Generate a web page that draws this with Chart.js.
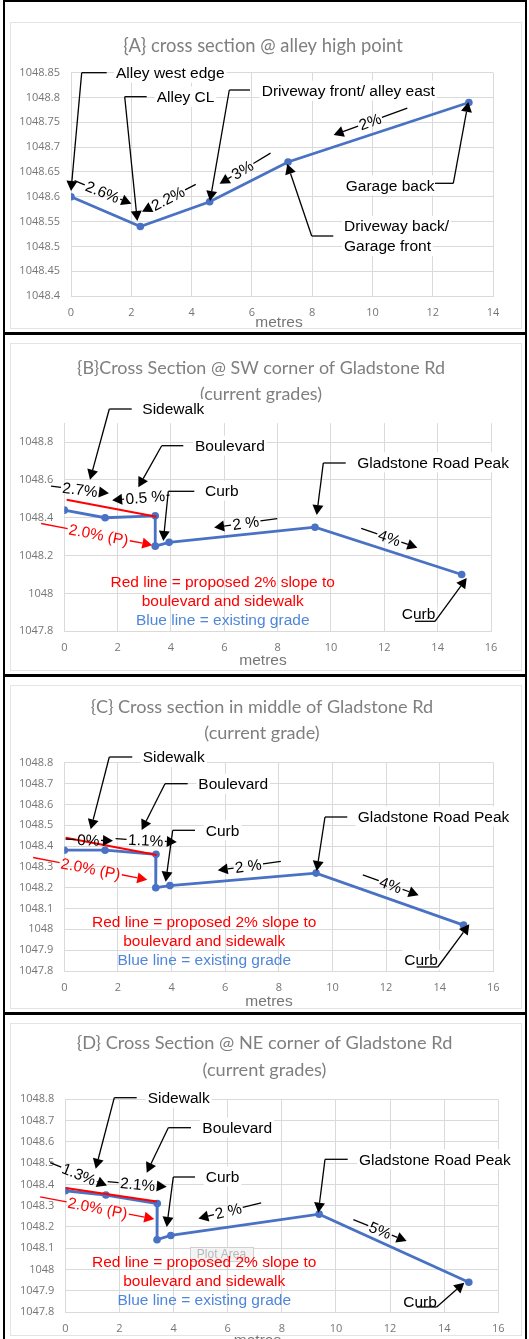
<!DOCTYPE html>
<html><head><meta charset="utf-8">
<script src="https://cdn.jsdelivr.net/npm/chart.js@4.4.1/dist/chart.umd.min.js"></script>
<style>
html,body{margin:0;padding:0;background:#fff;}
body{width:529px;height:1339px;position:relative;overflow:hidden;}
canvas{position:absolute;left:0;}
.fr{position:absolute;background:#000;z-index:5;}
</style></head><body>
<canvas id="cA" width="529" height="332" style="top:0px"></canvas>
<canvas id="cB" width="529" height="339" style="top:335px"></canvas>
<canvas id="cC" width="529" height="335" style="top:677px"></canvas>
<canvas id="cD" width="529" height="324" style="top:1015px"></canvas>
<div class="fr" style="left:3px;top:0;width:2px;height:1339px"></div>
<div class="fr" style="left:525px;top:0;width:2px;height:1339px"></div>
<div class="fr" style="left:3px;top:0;width:524px;height:2px"></div>
<div class="fr" style="left:3px;top:332px;width:524px;height:3px"></div>
<div class="fr" style="left:3px;top:674px;width:524px;height:3px"></div>
<div class="fr" style="left:3px;top:1012px;width:524px;height:3px"></div>
<script>
// ---------------- DATA ----------------
const xA = [0, 2.3, 4.6, 7.2, 13.2];
const yA = [1048.60, 1048.54, 1048.59, 1048.67, 1048.79];
const xTicksA = [0, 2, 4, 6, 8, 10, 12, 14];
const yTicksA = [1048.4, 1048.45, 1048.5, 1048.55, 1048.6, 1048.65, 1048.7, 1048.75, 1048.8, 1048.85];

const xB = [0, 1.53, 3.41, 3.41, 3.93, 9.4, 14.9];
const yB = [1048.44, 1048.40, 1048.41, 1048.25, 1048.27, 1048.35, 1048.10];
const redXB = [0.09, 3.46];
const redYB = [1048.495, 1048.405];

const xC = [0, 1.52, 3.42, 3.41, 3.94, 9.39, 14.89];
const yC = [1048.38, 1048.38, 1048.36, 1048.20, 1048.21, 1048.27, 1048.02];
const redXC = [0.05, 3.45];
const redYC = [1048.44, 1048.357];

const xD = [0, 1.5, 3.4, 3.39, 3.9, 9.38, 14.91];
const yD = [1048.37, 1048.35, 1048.31, 1048.14, 1048.16, 1048.26, 1047.94];
const redXD = [0.02, 3.38];
const redYD = [1048.383, 1048.32];

const xTicks16 = [0, 2, 4, 6, 8, 10, 12, 14, 16];
const yTicksB = [1047.8, 1048.0, 1048.2, 1048.4, 1048.6, 1048.8];
const yTicks01 = [1047.8, 1047.9, 1048.0, 1048.1, 1048.2, 1048.3, 1048.4, 1048.5, 1048.6, 1048.7, 1048.8];

const titleA = ['{A} cross section @ alley high point'];
const titleB = ['{B}Cross Section @ SW corner of Gladstone Rd', '(current grades)'];
const titleC = ['{C} Cross section in middle of Gladstone Rd', '(current grade)'];
const titleD = ['{D} Cross Section @ NE corner of Gladstone Rd', '(current grades)'];
const legendRed = ['Red line = proposed 2% slope to', 'boulevard and sidewalk'];
const legendBlue = 'Blue line = existing grade';
const xTitle = 'metres';

// ---------------- STYLE ----------------
const BLUE = '#4a72c4', RED = '#ff0000', LEGBLUE = '#4f86dc';
const GRID = '#dadada', TICK = '#767676', TITLE = '#7f7f7f';
const LBL = '15.5px "Liberation Sans", Arial, sans-serif';
const fmt = v => String(Number(v.toFixed(2)));

function line(ctx, x1, y1, x2, y2, col) {
  ctx.strokeStyle = col; ctx.lineWidth = 1.3;
  ctx.beginPath(); ctx.moveTo(x1, y1); ctx.lineTo(x2, y2); ctx.stroke();
}
function arrow(ctx, x1, y1, x2, y2, col) {
  const ang = Math.atan2(y2 - y1, x2 - x1), hl = 10, hw = 5.5;
  const bx = x2 - hl * Math.cos(ang), by = y2 - hl * Math.sin(ang);
  line(ctx, x1, y1, bx, by, col);
  ctx.fillStyle = col;
  ctx.beginPath(); ctx.moveTo(x2, y2);
  ctx.lineTo(bx + hw * Math.sin(ang), by - hw * Math.cos(ang));
  ctx.lineTo(bx - hw * Math.sin(ang), by + hw * Math.cos(ang));
  ctx.closePath(); ctx.fill();
}
function slope(ctx, s, top) {
  ctx.save();
  ctx.translate(s.x, s.y - top); ctx.rotate(s.a * Math.PI / 180);
  ctx.font = LBL; const w = ctx.measureText(s.t).width;
  const col = s.red ? RED : '#000';
  ctx.fillStyle = col; ctx.textAlign = 'center'; ctx.textBaseline = 'middle';
  ctx.fillText(s.t, 0, 1);
  const g = 1.5;
  if (s.l) { if (s.la) arrow(ctx, -w/2 - g, 0, -w/2 - g - s.l, 0, col); else line(ctx, -w/2 - g, 0, -w/2 - g - s.l, 0, col); }
  if (s.r) { if (s.ra) arrow(ctx, w/2 + g, 0, w/2 + g + s.r, 0, col); else line(ctx, w/2 + g, 0, w/2 + g + s.r, 0, col); }
  ctx.restore();
}
function callout(ctx, c, top) {
  ctx.font = LBL; ctx.textAlign = 'left'; ctx.textBaseline = 'middle';
  c.t.forEach((t, i) => {
    const w = ctx.measureText(t).width;
    ctx.fillStyle = '#fff'; ctx.fillRect(c.x - 2, c.y - top + i * 20 - 10, w + 4, 20);
  });
  c.t.forEach((t, i) => { ctx.fillStyle = '#000'; ctx.fillText(t, c.x, c.y - top + i * 20 + 1); });
  (c.ln || []).forEach(l => line(ctx, l[0], l[1] - top, l[2], l[3] - top, '#000'));
  (c.ar || []).forEach(l => arrow(ctx, l[0], l[1] - top, l[2], l[3] - top, '#000'));
}
function fitFont(ctx, text, family, target) {
  ctx.font = '20px ' + family;
  return 20 * target / ctx.measureText(text).width;
}

const panels = [
  { id: 'cA', top: 0, H: 332, area: { l: 71, t: 72.7, r: 493, b: 296 },
    xmin: 0, xmax: 14, ymin: 1048.4, ymax: 1048.85, xt: xTicksA, yt: yTicksA,
    x: xA, y: yA, title: titleA, titleW: 280, titleY: [46], titleX: 263, metres: [279, 323],
    callouts: [
      { t: ['Alley west edge'], x: 116, y: 72.7, ln: [[81.7, 72.7, 106.7, 72.7]], ar: [[81.7, 72.7, 71, 191]] },
      { t: ['Alley CL'], x: 156.7, y: 96.7, ln: [[124.7, 96.7, 146.7, 96.7]], ar: [[124.7, 96.7, 137.3, 221]] },
      { t: ['Driveway front/ alley east'], x: 261.7, y: 90.7, ln: [[229.3, 90, 250, 90]], ar: [[229.3, 90, 210, 201]] },
      { t: ['Garage back'], x: 345.7, y: 185.3, ln: [[435, 183.3, 453.3, 183.3]], ar: [[453.3, 183.3, 468.3, 102]] },
      { t: ['Driveway back/', 'Garage front'], x: 344, y: 226, ln: [[311.7, 236, 333.3, 236]], ar: [[311.7, 236, 287.3, 164]] }
    ],
    slopes: [
      { t: '2.6%', x: 102.5, y: 192, a: 22, l: 11, r: 12, ra: 1 },
      { t: '2.2%', x: 168, y: 198.5, a: -27, l: 10, r: 12, la: 1 },
      { t: '3%', x: 242.5, y: 170, a: -31, l: 14, r: 20, la: 1 },
      { t: '2%', x: 370, y: 121.7, a: -20, l: 26, r: 27, la: 1 }
    ] },
  { id: 'cB', top: 335, H: 339, area: { l: 64.3, t: 88.1, r: 491, b: 296.3 },
    xmin: 0, xmax: 16, ymin: 1047.8, ymax: 1048.9, xt: xTicks16, yt: yTicksB,
    x: xB, y: yB, rx: redXB, ry: redYB, title: titleB, titleW: 368, titleY: [368.7, 394.7], titleX: 261, metres: [263, 660.7],
    legendY: [583, 601.3, 620.7], legendX: 222.7,
    callouts: [
      { t: ['Sidewalk'], x: 142.3, y: 409, ln: [[109.3, 409, 131.7, 409]], ar: [[109.3, 409, 90, 479.7]] },
      { t: ['Boulevard'], x: 195, y: 445.7, ln: [[161.7, 445.7, 183.3, 445.7]], ar: [[161.7, 445.7, 138.3, 487.3]] },
      { t: ['Curb'], x: 205, y: 490.7, ln: [[168.3, 491.3, 194.3, 491.3]], ar: [[168.3, 491.3, 163.3, 541]] },
      { t: ['Gladstone Road Peak'], x: 357.3, y: 462.3, ln: [[323.3, 463, 345.7, 463]], ar: [[323.3, 463, 316.7, 515]] },
      { t: ['Curb'], x: 401.7, y: 614, ln: [[415, 621.3, 435, 621.3]], ar: [[435, 621.3, 466.7, 578]] }
    ],
    slopes: [
      { t: '2.7%', x: 80, y: 489.7, a: 7, l: 10, r: 10, ra: 1 },
      { t: '0.5 %', x: 145.3, y: 497.3, a: -5, l: 12, r: 3, la: 1 },
      { t: '2.0% (P)', x: 98.7, y: 534.7, a: 11, l: 27, r: 23, ra: 1, red: 1 },
      { t: '2 %', x: 245.7, y: 523, a: -8, l: 17, r: 17, la: 1 },
      { t: '4%', x: 389.3, y: 538, a: 19, l: 17, r: 17, ra: 1 }
    ] },
  { id: 'cC', top: 677, H: 335, area: { l: 64.3, t: 85.7, r: 493.3, b: 294 },
    xmin: 0, xmax: 16, ymin: 1047.8, ymax: 1048.8, xt: xTicks16, yt: yTicks01,
    x: xC, y: yC, rx: redXC, ry: redYC, title: titleC, titleW: 342.7, titleY: [707, 733.3], titleX: 262, metres: [269, 1001.7],
    legendY: [922.7, 941.7, 961], legendX: 204.2,
    callouts: [
      { t: ['Sidewalk'], x: 142.7, y: 757, ln: [[109.3, 757, 132.3, 757]], ar: [[109.3, 757, 90.7, 829.3]] },
      { t: ['Boulevard'], x: 198.3, y: 783.7, ln: [[165, 783.7, 187.7, 783.7]], ar: [[165, 783.7, 141.7, 830]] },
      { t: ['Curb'], x: 205.7, y: 830.3, ln: [[172.7, 830.3, 195, 830.3]], ar: [[172.7, 830.3, 165.7, 881.7]] },
      { t: ['Gladstone Road Peak'], x: 357.7, y: 816.3, ln: [[325, 817, 347.3, 817]], ar: [[325, 817, 316.7, 871]] },
      { t: ['Curb'], x: 404.3, y: 960, ln: [[416.7, 967, 437.7, 967]], ar: [[437.7, 967, 469.3, 924.3]] }
    ],
    slopes: [
      { t: '0%', x: 88.3, y: 840, a: 2, l: 10, r: 12, ra: 1 },
      { t: '1.1%', x: 145.7, y: 840.3, a: 3, l: 11, r: 12, ra: 1 },
      { t: '2.0% (P)', x: 90.7, y: 868.7, a: 11, l: 27, r: 26, ra: 1, red: 1 },
      { t: '2 %', x: 248.3, y: 866, a: -8, l: 16, r: 18, la: 1 },
      { t: '4%', x: 390.7, y: 885, a: 20, l: 17, r: 17, ra: 1 }
    ] },
  { id: 'cD', top: 1015, H: 324, area: { l: 65.3, t: 84.3, r: 498.3, b: 297 },
    xmin: 0, xmax: 16, ymin: 1047.8, ymax: 1048.8, xt: xTicks16, yt: yTicks01,
    x: xD, y: yD, rx: redXD, ry: redYD, title: titleD, titleW: 376, titleY: [1043, 1069.7], titleX: 264.5, metres: [257.5, 1341],
    legendY: [1262.7, 1281.3, 1300.7], legendX: 204.2, ghost: true,
    callouts: [
      { t: ['Sidewalk'], x: 147.7, y: 1097.7, ln: [[114.3, 1097.7, 136.7, 1097.7]], ar: [[114.3, 1097.7, 95.7, 1168.7]] },
      { t: ['Boulevard'], x: 202.3, y: 1127.7, ln: [[168.3, 1127.7, 191, 1127.7]], ar: [[168.3, 1127.7, 146.7, 1172.7]] },
      { t: ['Curb'], x: 205.7, y: 1176.3, ln: [[173.3, 1177, 195, 1177]], ar: [[173.3, 1177, 166.7, 1227]] },
      { t: ['Gladstone Road Peak'], x: 359, y: 1159.3, ln: [[325, 1159.3, 347.7, 1159.3]], ar: [[325, 1159.3, 318.3, 1212.7]] },
      { t: ['Curb'], x: 403.3, y: 1301.3, ln: [[416.7, 1307, 436.7, 1307]], ar: [[436.7, 1307, 464.3, 1282.7]] }
    ],
    slopes: [
      { t: '1.3%', x: 79, y: 1174.3, a: 22, l: 12, r: 11, ra: 1 },
      { t: '2.1%', x: 137.7, y: 1184.3, a: 5, l: 11, r: 10, ra: 1 },
      { t: '2.0% (P)', x: 97.7, y: 1208, a: 11, l: 27, r: 26, ra: 1, red: 1 },
      { t: '2 %', x: 228.3, y: 1211, a: -14, l: 16, r: 19, la: 1 },
      { t: '5%', x: 380, y: 1230.3, a: 22, l: 16, r: 16, ra: 1 }
    ] }
];

const annot = {
  id: 'annot',
  beforeDraw(chart, args, o) {
    const p = o.p, ctx = chart.ctx;
    ctx.save();
    ctx.fillStyle = '#fff'; ctx.fillRect(0, 0, chart.width, chart.height);
    ctx.strokeStyle = '#e4e4e4'; ctx.lineWidth = 1;
    ctx.strokeRect(10.5, 22.5 - (p.top ? 14 : 0), 511, p.H - 26 + (p.top ? 14 : 0));
    ctx.restore();
  },
  afterDraw(chart, args, o) {
    const p = o.p, ctx = chart.ctx, top = p.top;
    ctx.save();
    const fam = 'Lato, "Open Sans", sans-serif';
    const fs = fitFont(ctx, p.title[0], fam, p.titleW);
    ctx.font = fs + 'px ' + fam; ctx.fillStyle = TITLE; ctx.textAlign = 'center'; ctx.textBaseline = 'middle';
    p.title.forEach((t, i) => ctx.fillText(t, p.titleX, p.titleY[i] - top));
    ctx.font = LBL; ctx.fillStyle = TICK; ctx.fillText(xTitle, p.metres[0], p.metres[1] - top);
    if (p.ghost) {
      ctx.fillStyle = '#f4f4f4'; ctx.fillRect(190, 1247 - top, 63, 14);
      ctx.strokeStyle = '#d0d0d0'; ctx.strokeRect(190.5, 1247.5 - top, 63, 14);
      ctx.font = '12px "Liberation Sans", Arial'; ctx.fillStyle = '#b8b8b8';
      ctx.fillText('Plot Area', 221.5, 1255 - top);
    }
    if (p.legendY) {
      ctx.font = LBL; ctx.textAlign = 'center'; ctx.textBaseline = 'middle';
      ctx.fillStyle = RED;
      ctx.fillText(legendRed[0], p.legendX, p.legendY[0] - top);
      ctx.fillText(legendRed[1], p.legendX, p.legendY[1] - top);
      ctx.fillStyle = LEGBLUE;
      ctx.fillText(legendBlue, p.legendX, p.legendY[2] - top);
    }
    p.callouts.forEach(c => callout(ctx, c, top));
    p.slopes.forEach(s => slope(ctx, s, top));
    ctx.restore();
  }
};

panels.forEach(p => {
  const W = 529, a = p.area;
  const datasets = [{
    data: p.x.map((v, i) => ({ x: v, y: p.y[i] })),
    showLine: true, borderColor: BLUE, backgroundColor: BLUE, borderWidth: 2.8,
    pointRadius: 3.8, pointBorderWidth: 0, pointBackgroundColor: BLUE, order: 1
  }];
  if (p.rx) datasets.unshift({
    data: p.rx.map((v, i) => ({ x: v, y: p.ry[i] })),
    showLine: true, borderColor: RED, borderWidth: 2, pointRadius: 0, order: 0
  });
  new Chart(document.getElementById(p.id), {
    type: 'scatter',
    data: { datasets },
    plugins: [annot],
    options: {
      responsive: false, animation: false, devicePixelRatio: 1,
      layout: { padding: { left: 0, top: a.t, right: W - a.r, bottom: 0 } },
      plugins: { legend: { display: false }, tooltip: { enabled: false }, annot: { p } },
      scales: {
        x: {
          type: 'linear', min: p.xmin, max: p.xmax,
          afterBuildTicks: s => { s.ticks = p.xt.map(v => ({ value: v })); },
          afterFit: s => { s.height = p.H - a.b; },
          grid: { color: GRID, drawTicks: false, lineWidth: 1 },
          border: { color: GRID },
          ticks: { color: TICK, padding: 10, font: { family: '"Open Sans", sans-serif', size: 11 }, callback: v => fmt(v), maxRotation: 0 }
        },
        y: {
          type: 'linear', min: p.ymin, max: p.ymax,
          afterBuildTicks: s => { s.ticks = p.yt.map(v => ({ value: v })); },
          afterFit: s => { s.width = a.l; },
          grid: { color: GRID, drawTicks: false, lineWidth: 1 },
          border: { color: GRID },
          ticks: { color: TICK, padding: 11, font: { family: '"Open Sans", sans-serif', size: 11 }, callback: v => fmt(v) }
        }
      }
    }
  });
});
</script>
</body></html>
